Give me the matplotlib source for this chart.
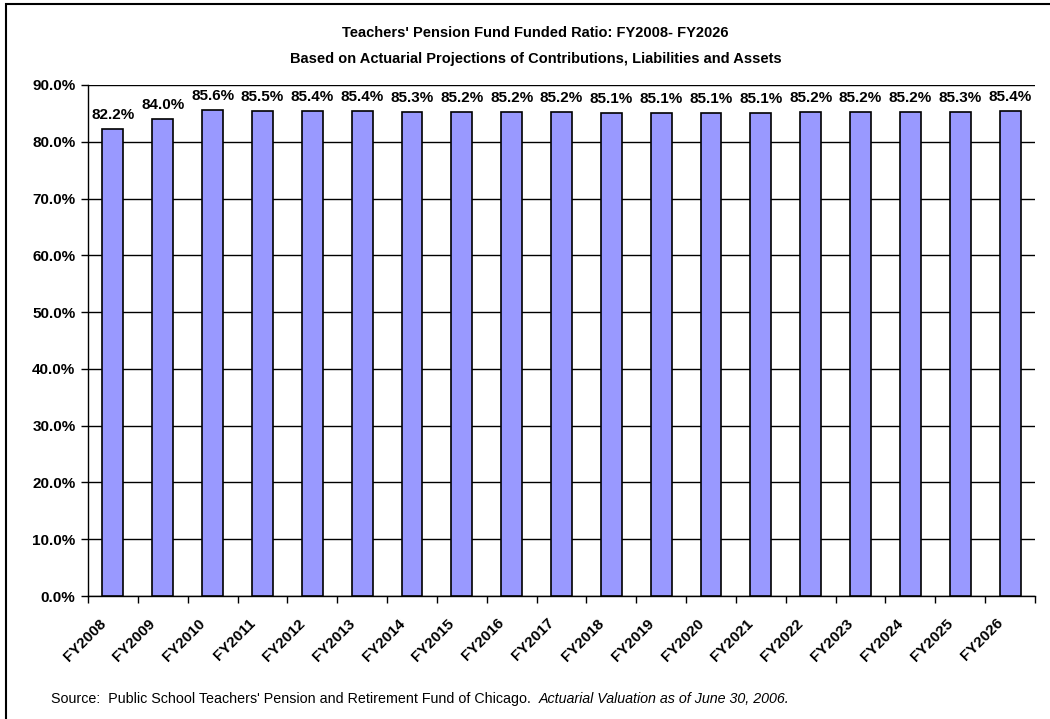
import numpy as np
import matplotlib
matplotlib.use("Agg")
import matplotlib.pyplot as plt
import matplotlib.transforms as mtransforms
from matplotlib.patches import Rectangle
from matplotlib.ticker import FuncFormatter, FixedLocator

plt.rcParams["font.family"] = ["Liberation Sans", "DejaVu Sans"]

years = ["FY2008", "FY2009", "FY2010", "FY2011", "FY2012", "FY2013", "FY2014",
         "FY2015", "FY2016", "FY2017", "FY2018", "FY2019", "FY2020", "FY2021",
         "FY2022", "FY2023", "FY2024", "FY2025", "FY2026"]
funded = [82.2, 84.0, 85.6, 85.5, 85.4, 85.4, 85.3, 85.2, 85.2, 85.2,
          85.1, 85.1, 85.1, 85.1, 85.2, 85.2, 85.2, 85.3, 85.4]
yticks = [0, 10, 20, 30, 40, 50, 60, 70, 80, 90]

fig = plt.figure(figsize=(10.5, 7.19), dpi=100)
ax = fig.add_axes([88 / 1050, 1 - 596 / 719, (1035 - 88) / 1050, (596 - 85) / 719])

# outer frame of the chart object
fig.patches.append(Rectangle((6 / 1050, -0.05), 1.1, 1 - 4 / 719 + 0.05,
                             transform=fig.transFigure, fill=False,
                             edgecolor="black", linewidth=1.5, clip_on=False))

x = np.arange(len(years))
bars = ax.bar(x, funded, width=0.42, color="#9999FF", edgecolor="black",
              linewidth=1.2, zorder=3)

for xi, v in zip(x, funded):
    ax.annotate(f"{v:.1f}%", (xi, v), xytext=(0, 5), textcoords="offset points",
                ha="center", va="bottom", fontsize=11, fontweight="bold")

ax.set_xlim(-0.5, len(years) - 0.5)
ax.set_ylim(0, 90)
ax.set_yticks(yticks)
ax.yaxis.set_major_formatter(FuncFormatter(lambda v, p: f"{v:.1f}%"))
ax.yaxis.grid(True, color="black", linewidth=1)
ax.set_axisbelow(True)

ax.set_xticks(x)
ax.set_xticklabels(years, rotation=45, ha="right", va="center",
                   rotation_mode="anchor", fontsize=11, fontweight="bold")
ax.tick_params(axis="x", which="major", length=0, pad=18)
shift = mtransforms.ScaledTranslation(-0.095, 0, fig.dpi_scale_trans)
for lab in ax.get_xticklabels():
    lab.set_transform(lab.get_transform() + shift)
ax.xaxis.set_minor_locator(FixedLocator(np.arange(-0.5, len(years), 1)))
ax.tick_params(axis="x", which="minor", length=5, width=1, direction="out")
ax.tick_params(axis="y", length=5, width=1, direction="out", labelsize=11, pad=4)
for lab in ax.get_yticklabels():
    lab.set_fontweight("bold")

ax.spines["right"].set_visible(False)
ax.spines["top"].set_visible(False)
for s in ["left", "bottom"]:
    ax.spines[s].set_linewidth(1)

fig.text(0.51, 1 - 33 / 719, "Teachers' Pension Fund Funded Ratio: FY2008- FY2026",
         ha="center", va="center", fontsize=10.5, fontweight="bold")
fig.text(0.51, 1 - 59 / 719, "Based on Actuarial Projections of Contributions, Liabilities and Assets",
         ha="center", va="center", fontsize=10.5, fontweight="bold")

src = fig.text(51 / 1050, 1 - 699 / 719,
               "Source:  Public School Teachers' Pension and Retirement Fund of Chicago.  ",
               ha="left", va="center", fontsize=10.3)
fig.canvas.draw()
bb = src.get_window_extent()
fig.text(bb.x1 / 1050, 1 - 699 / 719, "Actuarial Valuation as of June 30, 2006.",
         ha="left", va="center", fontsize=10.3, style="italic")

fig.savefig("out.png", dpi=100)
